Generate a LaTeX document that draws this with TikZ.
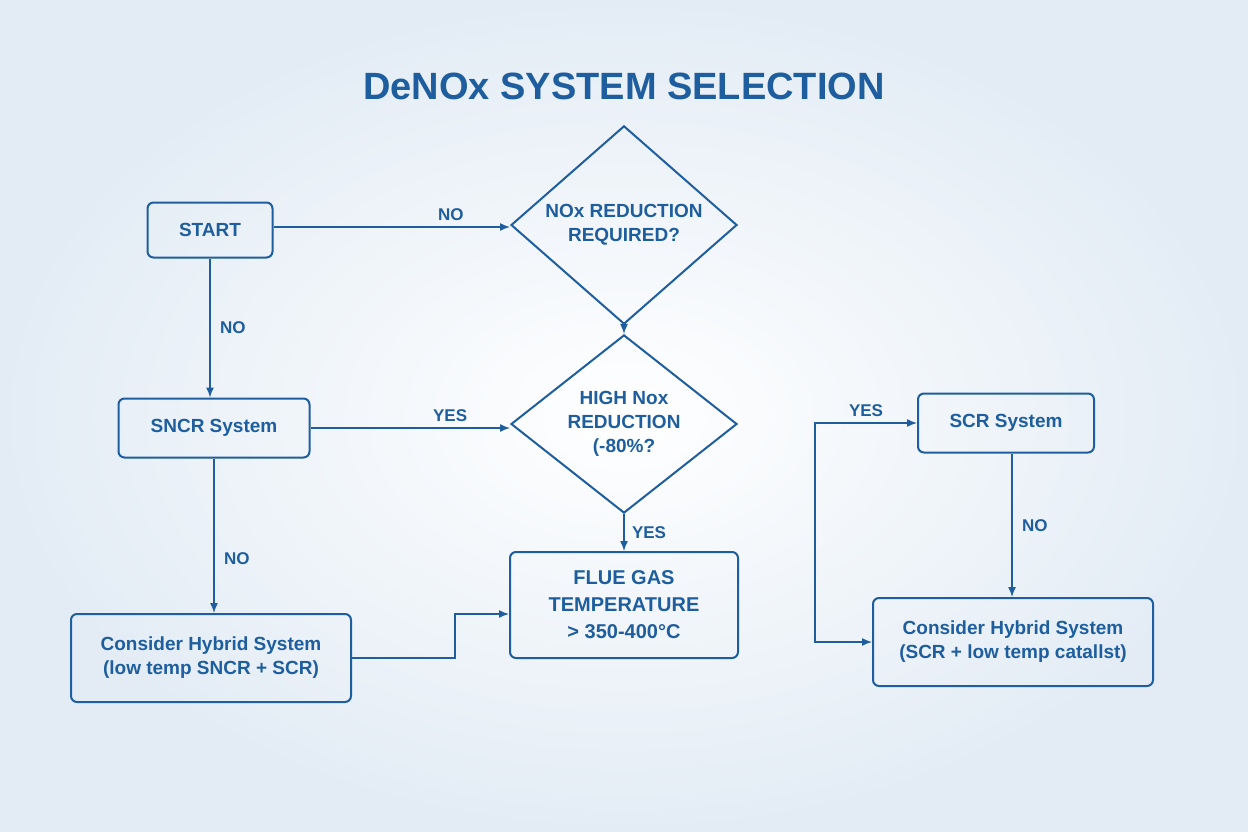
\documentclass[tikz,border=0pt]{standalone}
\usepackage{fontspec}
\setmainfont{Liberation Sans}
\usetikzlibrary{shapes.geometric,arrows.meta}
\definecolor{bl}{HTML}{1E5E9E}
\definecolor{bgedge}{HTML}{E3ECF5}
\begin{document}
\begin{tikzpicture}[x=1pt,y=-1pt,
 box/.style={draw=bl,line width=2pt,rounded corners=6pt,text=bl,align=center,font=\fontsize{19}{24}\selectfont\bfseries},
 dia/.style={draw=bl,line width=2pt,diamond,text=bl,align=center,font=\fontsize{19}{24}\selectfont\bfseries,inner sep=0pt},
 ar/.style={draw=bl,line width=1.4pt,-{Latex[length=10pt,width=8pt]}},
 lab/.style={text=bl,font=\fontsize{17}{19}\selectfont\bfseries}]
\shade[inner color=white,outer color=bgedge] (0,0) rectangle (1248,832);
\useasboundingbox (0,0) rectangle (1248,832);
\node[text=bl,font=\fontsize{38}{42}\selectfont\bfseries] (title) at (624,86) {DeNOx SYSTEM SELECTION};
\node[box,minimum width=125pt,minimum height=55pt] (start) at (210,230) {START};
\node[dia,minimum width=226pt,minimum height=150pt] (nox) at (624,225) {NOx REDUCTION\\REQUIRED?};
\node[box,minimum width=191pt,minimum height=59pt] (sncr) at (214,428) {SNCR System};
\node[dia,minimum width=226pt,minimum height=150pt] (high) at (624,424) {HIGH Nox\\REDUCTION\\(-80\%?};
\node[box,minimum width=228pt,minimum height=106pt,font=\fontsize{20}{27}\selectfont\bfseries] (flue) at (624,605) {FLUE GAS\\TEMPERATURE\\> 350-400°C};
\node[box,minimum width=280pt,minimum height=88pt] (hyb1) at (211,658) {Consider Hybrid System\\(low temp SNCR + SCR)};
\node[box,minimum width=176pt,minimum height=59pt] (scr) at (1006,423) {SCR System};
\node[box,minimum width=280pt,minimum height=88pt] (hyb2) at (1013,642) {Consider Hybrid System\\(SCR + low temp catallst)};
\coordinate (c) at (815,532);
\coordinate (m) at (455,620);
\draw[ar] ([yshift=3pt]start.east) -- node[lab,pos=0.75,above=2pt]{NO} ([yshift=3pt]start.east -| nox.west);
\draw[ar] (start.south) -- node[lab,right=6pt]{NO} (start.south |- sncr.north);
\draw[ar] (nox.south) -- (high.north);
\draw[ar] (sncr.east) -- node[lab,pos=0.7,above=2pt]{YES} (sncr.east -| high.west);
\draw[ar] (sncr.south) -- node[lab,pos=0.65,right=6pt]{NO} (sncr.south |- hyb1.north);
\draw[ar] (high.south) -- node[lab,right=4pt]{YES} (flue.north);
\draw[ar] (hyb1.east) -| (m) |- ([yshift=-9pt]flue.west);
\draw[ar] ([xshift=6pt]scr.south) -- node[lab,right=6pt]{NO} ([xshift=6pt]scr.south |- hyb2.north);
\draw[ar] (c) |- node[lab,pos=0.75,above=2pt]{YES} (scr.west);
\draw[ar] (c) |- (hyb2.west);
\end{tikzpicture}
\end{document}
